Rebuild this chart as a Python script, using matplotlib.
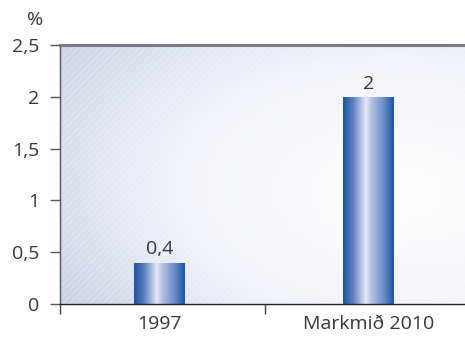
import numpy as np
import matplotlib
matplotlib.use("Agg")
import matplotlib.pyplot as plt
from matplotlib.colors import LinearSegmentedColormap
from matplotlib.patches import Rectangle

categories = ["1997", "Markmið 2010"]
values = [0.4, 2.0]
value_labels = ["0,4", "2"]
yticks = [0, 0.5, 1, 1.5, 2, 2.5]
ytick_labels = ["0", "0,5", "1", "1,5", "2", "2,5"]

plt.rcParams["font.family"] = ["Open Sans", "DejaVu Sans"]
TXT = "#363636"
FS = 14

fig = plt.figure(figsize=(4.65, 3.38), dpi=100)
ax = fig.add_axes([60 / 465, 34 / 338, 405 / 465, 259 / 338])

x = np.arange(len(categories))
xmin, xmax = -0.476, 1.462
ax.set_xlim(xmin, xmax)
ax.set_ylim(0, 2.5)

# soft bluish background, lightest towards the lower right
nx, ny = 300, 200
gx, gy = np.meshgrid(np.linspace(0, 1, nx), np.linspace(0, 1, ny))
d = np.sqrt(((gx - 0.82) * 0.9) ** 2 + ((gy - 0.42) * 1.0) ** 2) + 0.12 * (1 - gy) * (1 - gx)
t = np.clip(d / 0.95, 0, 1) ** 1.2
bg_cmap = LinearSegmentedColormap.from_list("bg", ["#ffffff", "#f1f3fa", "#cbd2e8"])
ax.imshow(t, cmap=bg_cmap, vmin=0, vmax=1, origin="lower", aspect="auto",
          extent=(xmin, xmax, 0, 2.5), zorder=0, interpolation="bilinear")
ax.add_patch(Rectangle((xmin, 0), xmax - xmin, 2.5, facecolor="none",
                       edgecolor=(1, 1, 1, 0.25), hatch="/////", lw=0, zorder=0.5))

# bars with a metallic horizontal gradient
bar_w = 0.244
bar_cmap = LinearSegmentedColormap.from_list(
    "bar", [(0, "#1a55a6"), (0.2, "#5d80bf"), (0.45, "#e6eaf5"),
            (0.55, "#b5c3e2"), (0.8, "#6c8cc8"), (1, "#1a55a6")])
grad = np.linspace(0, 1, 200).reshape(1, -1)
bars = ax.bar(x, values, width=bar_w, color="none", zorder=2)
for b in bars:
    im = ax.imshow(grad, cmap=bar_cmap, aspect="auto", zorder=2,
                   extent=(b.get_x(), b.get_x() + b.get_width(), 0, b.get_height()))
    im.set_clip_path(b)
for xi, v, lab in zip(x, values, value_labels):
    ax.text(xi, v + 0.04, lab, ha="center", va="bottom", fontsize=FS, color=TXT)

ax.set_xlim(xmin, xmax)
ax.set_ylim(0, 2.5)

# axes and ticks
for s in ["top", "right"]:
    ax.spines[s].set_visible(False)
ax.spines["left"].set_color("#555555")
ax.spines["left"].set_linewidth(1.0)
ax.spines["bottom"].set_color("#222222")
ax.spines["bottom"].set_linewidth(1.0)
ax.axhline(2.5, color="#7c7c88", lw=2.2, zorder=3, clip_on=False)

ax.set_yticks(yticks)
ax.set_yticklabels(ytick_labels, fontsize=FS, color=TXT)
ax.tick_params(axis="y", length=7, width=1, color="#555555", pad=8)

ax.set_xticks(x)
ax.set_xticklabels(categories, fontsize=FS, color=TXT)
ax.tick_params(axis="x", which="major", length=0, pad=8)
ax.set_xticks([xmin, 0.505], minor=True)
ax.tick_params(axis="x", which="minor", length=7, width=1, color="#444444")

fig.text(35 / 465, 1 - 20 / 338, "%", ha="center", va="center", fontsize=FS, color=TXT)

fig.savefig("out.png", dpi=100)
